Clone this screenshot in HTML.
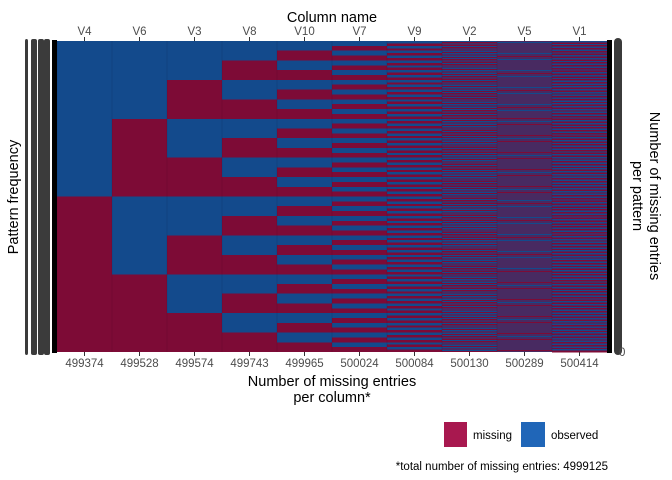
<!DOCTYPE html>
<html><head><meta charset="utf-8">
<style>
body{margin:0;background:#fff;}
svg{display:block;font-family:"Liberation Sans",sans-serif;}
</style></head>
<body>
<svg id="chart" width="672" height="480">
<g id="tiles" shape-rendering="crispEdges"></g>
<g id="axes"></g>
</svg>
<script>
const columns = ["V4","V6","V3","V8","V10","V7","V9","V2","V5","V1"];
const missingCounts = [499374,499528,499574,499743,499965,500024,500084,500130,500289,500414];
const nPatterns = 1024;
const totalMissing = 4999125;

const NS="http://www.w3.org/2000/svg";
const svg=document.getElementById('chart');
const tiles=document.getElementById('tiles');
const axes=document.getElementById('axes');
const x0=57,x1=607,y0=41,y1=352;
const colW=(x1-x0)/columns.length;
const rowH=(y1-y0)/nPatterns;
const xPos=i=>x0+i*colW;
const yPos=r=>y0+r*rowH;
const OBS="#134a8c",MIS="#7d0b36";
function mk(tag,attrs,parent){const e=document.createElementNS(NS,tag);for(const k in attrs)e.setAttribute(k,attrs[k]);(parent||svg).appendChild(e);return e;}
function txt(s,attrs,parent){const e=mk('text',attrs,parent);e.textContent=s;return e;}

columns.forEach((c,j)=>{
  const run=nPatterns/Math.pow(2,j+1);
  for(let r=0;r<nPatterns;r+=run){
    const missing=Math.floor(r/run)%2===1;
    const el=mk('rect',{x:xPos(j),y:yPos(r),width:colW+0.3,height:Math.max(run*rowH,0.6),fill:missing?MIS:OBS},tiles);
    
    
  }
  mk('line',{x1:xPos(j),x2:xPos(j),y1:y0,y2:y1,stroke:"rgba(0,0,0,0.15)","stroke-width":0.6},axes);
  const cx=xPos(j)+colW/2;
  mk('line',{x1:cx,x2:cx,y1:y0-4,y2:y0,stroke:"#333"},axes);
  const t=txt(c,{x:cx,y:y0-6,"text-anchor":"middle","font-size":11.5,fill:"#4d4d4d"},axes);
  
  
  mk('line',{x1:cx,x2:cx,y1:y1,y2:y1+4,stroke:"#333"},axes);
  const b=txt(String(missingCounts[j]),{x:cx,y:y1+15,"text-anchor":"middle","font-size":11.5,fill:"#4d4d4d"},axes);
  
  
});
[[25,3],[31,6],[38,6],[44,6]].forEach(([x,w])=>mk('rect',{x:x,y:39,width:w,height:316,rx:2,fill:"#3b3b3b",},axes));
mk('rect',{x:52,y:y0-1,width:5,height:y1-y0+2,fill:"#000",},axes);
mk('rect',{x:607,y:y0-1,width:5,height:y1-y0+2,fill:"#000",},axes);
mk('rect',{x:614,y:38,width:8,height:317,rx:4,fill:"#3b3b3b",},axes);
txt("0",{x:619,y:356,"font-size":11.5,fill:"#4d4d4d",},axes);
txt("Column name",{x:332,y:22,"text-anchor":"middle","font-size":14.5,fill:"#000",},axes);
txt("Pattern frequency",{x:0,y:0,transform:"translate(18,197) rotate(-90)","text-anchor":"middle","font-size":14.5,fill:"#000",},axes);
const rt=txt("",{transform:"translate(650,196) rotate(90)","text-anchor":"middle","font-size":14.5,fill:"#000",},axes);
rt.innerHTML='<tspan x="0" y="0">Number of missing entries</tspan><tspan x="0" y="17">per pattern</tspan>';
txt("Number of missing entries",{x:332,y:386,"text-anchor":"middle","font-size":14.5,fill:"#000",},axes);
txt("per column*",{x:332,y:402,"text-anchor":"middle","font-size":14.5,fill:"#000",},axes);
mk('rect',{x:444,y:422,width:23,height:25,fill:"#a8184f",},axes);
txt("missing",{x:473,y:439,"font-size":11.5,fill:"#000",},axes);
mk('rect',{x:521,y:422,width:24,height:25,fill:"#2066b8",},axes);
txt("observed",{x:551,y:439,"font-size":11.5,fill:"#000",},axes);
txt("*total number of missing entries: "+totalMissing,{x:608,y:470,"text-anchor":"end","font-size":11.5,fill:"#000",},axes);
</script>
</body></html>
